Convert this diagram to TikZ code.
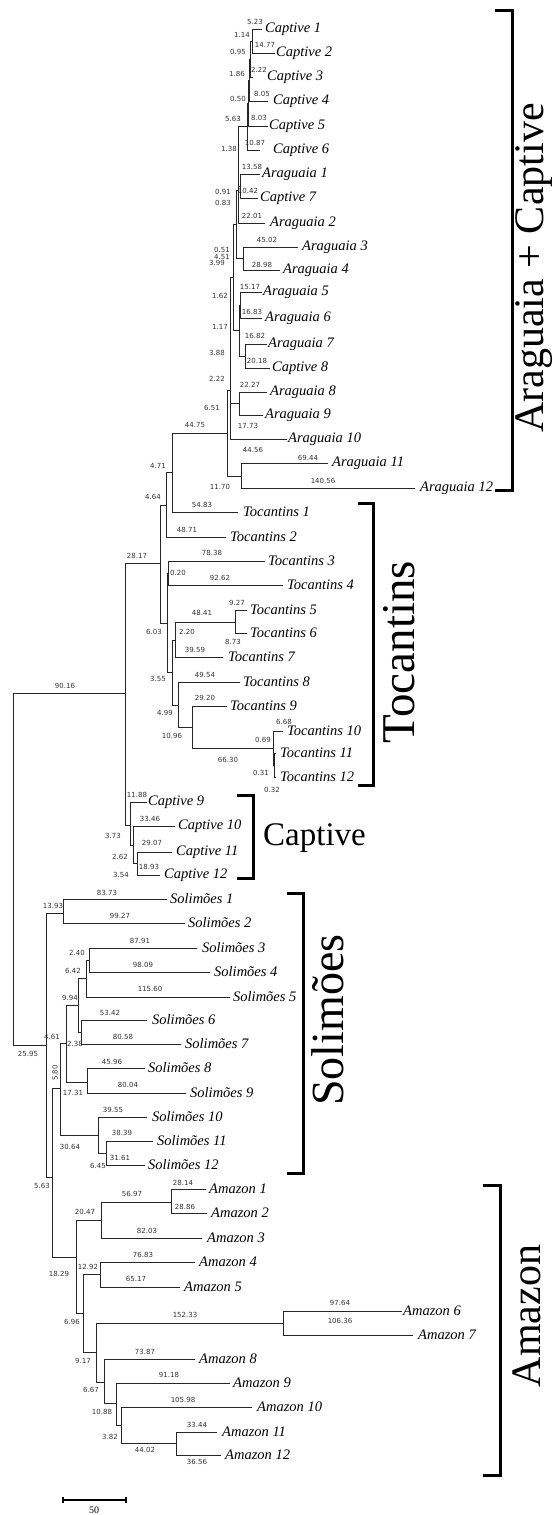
\documentclass[tikz,border=0pt]{standalone}
\usepackage{fontspec}
\setmainfont{Liberation Serif}
\newfontfamily\numfont{DejaVu Sans}
\begin{document}
\begin{tikzpicture}[x=1pt,y=-1pt,
  br/.style={draw=black!85,line width=0.9pt},
  leaf/.style={anchor=west,inner sep=0pt,font=\itshape\fontsize{14.5}{14.5}\selectfont},
  bl/.style={inner sep=0pt,font=\numfont\fontsize{7}{7}\selectfont,text=black!80},
  brk/.style={draw=black,line width=3pt,line join=miter},
  bigtxt/.style={inner sep=0pt}]
\useasboundingbox (0,0) rectangle (552,1515);
% leaves: name / y / branch end x / label x / text
\foreach \k/\y/\ex/\lx/\t in {
 C1/29/262/265/Captive 1, C2/53/275/276/Captive 2, C3/77/253/267/Captive  3,
 C4/101/268/273/Captive  4, C5/126/268/269/Captive 5, C6/150/260/273/Captive 6,
 Ar1/174/260/262/Araguaia 1, C7/198/258/260/Captive  7, Ar2/223/265/270/Araguaia  2,
 Ar3/247/298/302/Araguaia 3, Ar4/270/280/283/Araguaia  4, Ar5/292/262/263/Araguaia 5,
 Ar6/318/262/265/Araguaia 6, Ar7/344/267/268/Araguaia 7, C8/368/270/272/Captive  8,
 Ar8/392/267/270/Araguaia 8, Ar9/415/263/265/Araguaia 9, Ar10/439/287/288/Araguaia 10,
 Ar11/463/328/332/Araguaia 11, Ar12/488/415/420/Araguaia 12,
 T1/512/238/243/Tocantins 1, T2/537/226/230/Tocantins 2, T3/561/265/268/Tocantins 3,
 T4/585/283/287/Tocantins 4, T5/610/247/250/Tocantins 5, T6/633/247/250/Tocantins 6,
 T7/657/223/228/Tocantins 7, T8/682/240/243/Tocantins 8, T9/706/227/230/Tocantins 9,
 T10/731/283/287/Tocantins 10, T11/753/276/280/Tocantins 11, T12/777/276/280/Tocantins 12,
 C9/802/147/148/Captive 9, C10/826/175/178/Captive 10, C11/852/172/176/Captive  11,
 C12/875/160/164/Captive  12,
 S1/899/167/170/Solimões 1, S2/923/185/188/Solimões 2, S3/948/197/202/Solimões 3,
 S4/972/210/214/Solimões 4, S5/997/230/233/Solimões 5, S6/1020/147/152/Solimões 6,
 S7/1044/181/185/Solimões 7, S8/1068/145/148/Solimões 8, S9/1093/186/190/Solimões 9,
 S10/1117/147/152/Solimões 10, S11/1141/153/157/Solimões 11, S12/1165/145/148/Solimões 12,
 M1/1189/206/209/Amazon 1, M2/1213/207/211/Amazon 2, M3/1238/202/207/Amazon 3,
 M4/1262/195/199/Amazon 4, M5/1287/180/184/Amazon 5, M6/1311/402/403/Amazon 6,
 M7/1335/413/418/Amazon 7, M8/1359/195/199/Amazon 8, M9/1383/230/233/Amazon 9,
 M10/1407/252/257/Amazon 10, M11/1432/217/222/Amazon 11, M12/1455/221/225/Amazon 12}
 {\coordinate (e\k) at (\ex,\y); \node[leaf] (l\k) at (\lx,\y) {\t};}
% internal nodes
\foreach \k/\x/\y in {
 n1/252/41, n2/250/59, n3/249/80, n4/248/103, n5/247/126, n7/240/186, n6/238/156,
 n8/238/190, n9/243/258, n10/236/224, n11/240/305, n12/245/356, n13/239/330,
 n15/233/277, n14/239/403, Y/230/390, Z/241/476, X/227/433, G/172/472, H/166/505,
 T34/168/573, T56/235/622, L/175/640, P/274/765, O/273/748, N/192/727, M/178/705,
 K/172/672, J/167/623, I/160/563, C/130/825, D/133/845, E/137/863, A/125/693,
 S12n/63/913, S34/89/960, S35/86/978, S67/81/1032, S37/78/1005, S89/87/1082,
 S39/66/1043, S1112/106/1153, S1012/98/1135, S312/60/1088,
 A12n/171/1202, A13/101/1220, A45/100/1274, A67/283/1323, A1112/176/1443,
 A1012/121/1425, A912/116/1403, A812/104/1382, A612/96/1352, A412/83/1313,
 Am/76/1257, N52/52/1177, B/46/1045, R/13/869}
 {\coordinate (\k) at (\x,\y);}
% edges parent/child
\foreach \p/\c in {
 n1/eC1, n1/eC2, n2/n1, n2/eC3, n3/n2, n3/eC4, n4/n3, n4/eC5, n5/n4, n5/eC6,
 n7/eAr1, n7/eC7, n6/n5, n6/n7, n8/n6, n8/eAr2, n9/eAr3, n9/eAr4, n10/n8, n10/n9,
 n11/eAr5, n11/eAr6, n12/eAr7, n12/eC8, n13/n11, n13/n12, n15/n10, n15/n13,
 n14/eAr8, n14/eAr9, Y/n15, Y/n14, Y/eAr10, Z/eAr11, Z/eAr12, X/Y, X/Z,
 G/X, G/eT1, H/G, H/eT2, T34/eT3, T34/eT4, T56/eT5, T56/eT6, L/T56, L/eT7,
 P/eT11, P/eT12, O/eT10, O/P, N/eT9, N/O, M/eT8, M/N, K/L, K/M, J/T34, J/K,
 I/H, I/J, E/eC11, E/eC12, D/eC10, D/E, C/eC9, C/D, A/I, A/C,
 S12n/eS1, S12n/eS2, S34/eS3, S34/eS4, S35/S34, S35/eS5, S67/eS6, S67/eS7,
 S37/S35, S37/S67, S89/eS8, S89/eS9, S39/S37, S39/S89, S1112/eS11, S1112/eS12,
 S1012/eS10, S1012/S1112, S312/S39, S312/S1012,
 A12n/eM1, A12n/eM2, A13/A12n, A13/eM3, A45/eM4, A45/eM5, A67/eM6, A67/eM7,
 A1112/eM11, A1112/eM12, A1012/eM10, A1012/A1112, A912/eM9, A912/A1012,
 A812/eM8, A812/A912, A612/A67, A612/A812, A412/A45, A412/A612, Am/A13, Am/A412,
 N52/S312, N52/Am, B/S12n, B/N52, R/A, R/B}
 {\draw[br] (\p) |- (\c);}
% branch lengths
\foreach \t/\x/\y [count=\i] in {
 5.23/255/22, 1.14/242/35, 14.77/265/45, 0.95/238/52, 2.22/259/70, 1.86/237/74,
 8.05/262/94, 0.50/238/99, 8.03/259/118, 5.63/233/119, 10.87/255/143, 1.38/229/149,
 13.58/252/167, 10.42/248/191, 0.91/223/192, 0.83/223/203, 22.01/252/216,
 45.02/267/240, 0.51/222/250, 4.51/222/257, 3.99/217/263, 28.98/262/265,
 15.17/250/287, 1.62/220/296, 16.83/252/312, 1.17/220/327, 16.82/255/336,
 3.88/217/353, 20.18/257/361, 2.22/217/379, 22.27/250/385, 6.51/212/408,
 44.75/195/425, 17.73/248/426, 44.56/253/450, 69.44/308/458, 4.71/158/466,
 140.56/323/481, 11.70/220/487,
 4.64/153/497, 54.83/202/505, 48.71/187/530, 28.17/137/556, 78.38/212/553,
 0.20/178/573, 92.62/220/578, 9.27/237/603, 48.41/202/613, 2.20/187/632,
 6.03/154/632, 8.73/233/642, 39.59/195/650, 49.54/205/675, 3.55/158/679,
 90.16/65/686, 29.20/205/698, 4.99/165/713, 6.68/284/722, 10.96/172/736,
 0.69/263/740, 66.30/228/760, 0.31/261/773, 0.32/272/790,
 11.88/137/795, 33.46/150/819, 3.73/113/836, 29.07/152/843, 2.62/120/857,
 18.93/149/867, 3.54/121/875,
 83.73/107/893, 13.93/53/906, 99.27/120/916, 87.91/140/941, 2.40/77/953,
 98.09/143/965, 6.42/73/971, 115.60/150/989, 9.94/70/998, 53.42/110/1013,
 4.61/52/1037, 80.58/123/1037, 2.38/75/1044, 25.95/28/1054, 45.96/112/1062,
 80.04/128/1085, 17.31/73/1093, 39.55/113/1110, 38.39/122/1133, 30.64/70/1147,
 31.61/120/1158, 6.45/98/1166,
 5.63/42/1186, 28.14/183/1183, 56.97/132/1194, 28.86/185/1207, 20.47/85/1212,
 82.03/147/1231, 76.83/143/1255, 12.92/88/1267, 18.29/59/1274, 65.17/136/1279,
 97.64/340/1303, 152.33/185/1315, 106.36/340/1321, 6.96/72/1322, 73.87/145/1352,
 9.17/83/1361, 91.18/169/1375, 6.67/91/1390, 105.98/183/1400, 10.88/102/1412,
 33.44/197/1425, 3.82/110/1437, 44.02/145/1450, 36.56/197/1462}
 {\node[bl] (b\i) at (\x,\y) {\t};}
\node[bl,rotate=90] (b580) at (55,1073) {5.80};
% brackets
\foreach \k/\xa/\xb/\ya/\yb in {ac/495/512/10/490, tc/358/373/503/785, cp/237/253/795/878,
 sl/287/303/893/1173, am/483/500/1185/1475}
 {\coordinate (\k1) at (\xa,\ya); \coordinate (\k2) at (\xb,\ya);
  \coordinate (\k3) at (\xb,\yb); \coordinate (\k4) at (\xa,\yb);
  \draw[brk] (\k1) -- (\k2) -- (\k3) -- (\k4);}
\node[bigtxt,rotate=90,font=\fontsize{42}{42}\selectfont] (tac) at (534,268) {Araguaia + Captive};
\node[bigtxt,rotate=90,font=\fontsize{47}{47}\selectfont] (ttc) at (399,652) {Tocantins};
\node[bigtxt,anchor=base west,font=\fontsize{33}{33}\selectfont] (tcp) at (263,845) {Captive};
\node[bigtxt,rotate=90,font=\fontsize{46}{46}\selectfont] (tsl) at (328,1020) {Solimões};
\node[bigtxt,rotate=90,font=\fontsize{42}{42}\selectfont] (tam) at (527,1316) {Amazon};
% scale bar
\coordinate (sb1) at (63,1500); \coordinate (sb2) at (126,1500);
\draw[line width=1.6pt] (sb1) -- (sb2);
\draw[line width=1.2pt] ([yshift=3pt]sb1) -- ([yshift=-3pt]sb1);
\draw[line width=1.2pt] ([yshift=3pt]sb2) -- ([yshift=-3pt]sb2);
\node[inner sep=0pt,font=\fontsize{10}{10}\selectfont] (sbl) at (94,1510) {50};
\end{tikzpicture}
\end{document}
